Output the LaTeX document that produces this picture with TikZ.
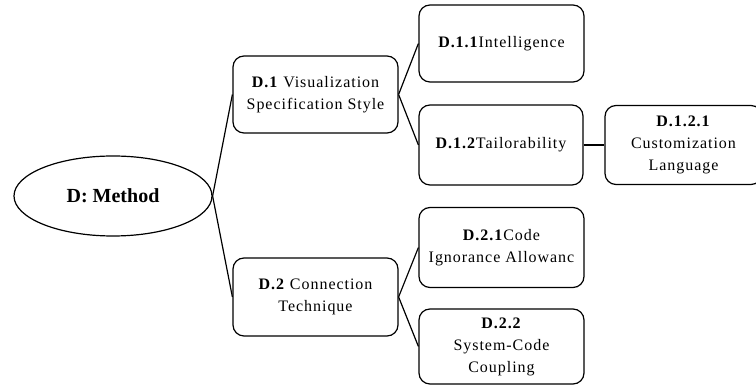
\documentclass[tikz,border=0pt]{standalone}
\usepackage{fontspec}
\setmainfont{Liberation Serif}[LetterSpace=6]
\newfontfamily\rootfont{Liberation Serif}
\usetikzlibrary{shapes.geometric}
\begin{document}
\begin{tikzpicture}[x=1pt,y=1pt,
  link/.style={line width=1.2pt, black},
  topic/.style={draw, line width=1.2pt, rounded corners=11pt, align=center,
    inner sep=0pt, font=\fontsize{16}{22}\selectfont},
  root/.style={draw, ellipse, line width=1.2pt, inner sep=0pt,
    minimum width=198pt, minimum height=80pt,
    font=\rootfont\fontsize{20}{22}\selectfont\bfseries}]
\useasboundingbox (0,0) rectangle (756,385);
\begin{scope}
\clip (0,0) rectangle (756,385);
% root of the tree
\node[root] (d) at (113,189) {D: Method};
% first level
\node[topic, minimum width=165pt, minimum height=77pt] (d1) at (315.5,290.5)
  {\textbf{D.1} Visualization\\Specification Style};
\node[topic, minimum width=165pt, minimum height=78pt] (d2) at (315.5,88)
  {\textbf{D.2} Connection\\Technique};
% second level
\node[topic, minimum width=165pt, minimum height=77pt] (d11) at (501.5,341.5)
  {\textbf{D.1.1}Intelligence};
\node[topic, minimum width=164pt, minimum height=80pt] (d12) at (501,240)
  {\textbf{D.1.2}Tailorability};
\node[topic, minimum width=165pt, minimum height=80pt] (d21) at (501.5,137.5)
  {\textbf{D.2.1}Code\\Ignorance Allowanc};
\node[topic, minimum width=165pt, minimum height=75pt] (d22) at (501.5,38.5)
  {\textbf{D.2.2}\\System-Code\\Coupling};
% third level
\node[topic, minimum width=157pt, minimum height=79pt] (d121) at (683.5,240)
  {\textbf{D.1.2.1}\\Customization\\Language};
% connectors
\draw[link] (d.east) -- (d1.west);
\draw[link] (d.east) -- (d2.west);
\draw[link] (d1.east) -- (d11.west);
\draw[link] (d1.east) -- (d12.west);
\draw[link] (d2.east) -- (d21.west);
\draw[link] (d2.east) -- (d22.west);
\draw[link] (d12.east) -- (d121.west);
\end{scope}
\end{tikzpicture}
\end{document}
